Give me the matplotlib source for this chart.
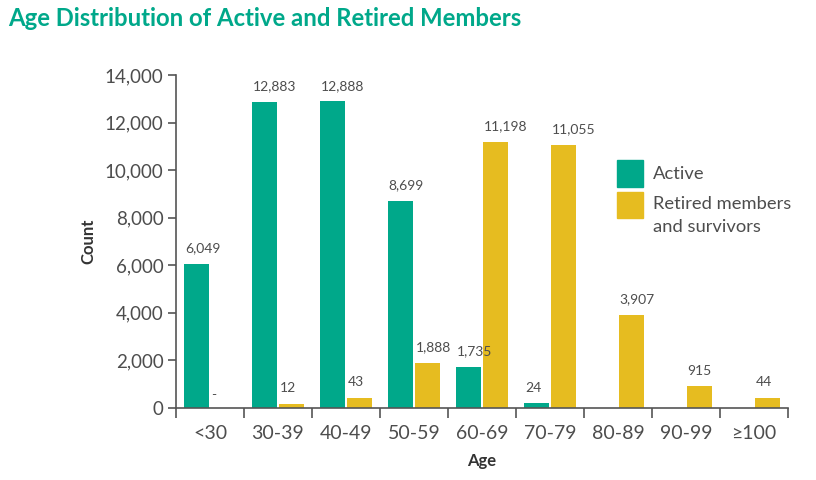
import matplotlib
matplotlib.use("Agg")
import matplotlib.pyplot as plt
import numpy as np
from matplotlib.patches import Rectangle

categories = ["<30", "30-39", "40-49", "50-59", "60-69", "70-79", "80-89", "90-99", "≥100"]
active_labels = ["6,049", "12,883", "12,888", "8,699", "1,735", "24", "", "", ""]
active_heights = [6049, 12883, 12888, 8699, 1735, 200, 0, 0, 0]
retired_labels = ["-", "12", "43", "1,888", "11,198", "11,055", "3,907", "915", "44"]
retired_heights = [0, 180, 420, 1888, 11198, 11055, 3907, 915, 420]
yticks = [0, 2000, 4000, 6000, 8000, 10000, 12000, 14000]
legend_labels = ["Active", "Retired members\nand survivors"]

GREEN = "#00A88A"
YELLOW = "#E6BC20"
TXT = "#4d4d4d"
AX = "#555555"

plt.rcParams["font.family"] = ["Lato", "DejaVu Sans"]

fig = plt.figure(figsize=(8.16, 4.8), dpi=100)
ax = fig.add_axes([176/816, 1-408/480, (788-176)/816, (408-75)/480])

x = np.arange(len(categories))
w = 0.37
off = 0.195
ax.bar(x - off, active_heights, width=w, color=GREEN)
ax.bar(x + off, retired_heights, width=w, color=YELLOW)

for i in range(len(categories)):
    if active_labels[i]:
        ax.annotate(active_labels[i], (x[i] - off - w/2, active_heights[i]), xytext=(0.5, 7),
                    textcoords="offset points", ha="left", va="bottom", fontsize=10, color=TXT)
    if retired_labels[i]:
        ax.annotate(retired_labels[i], (x[i] + off - w/2, retired_heights[i]),
                    xytext=(0.5, 7 if retired_heights[i] else 5),
                    textcoords="offset points", ha="left", va="bottom", fontsize=10, color=TXT)

ax.set_xlim(-0.5, len(categories) - 0.5)
ax.set_ylim(0, 14000)
ax.set_yticks(yticks)
ax.set_yticklabels([f"{v:,}" for v in yticks], fontsize=13.5, color=TXT)
ax.set_xticks(x)
ax.set_xticklabels(categories, fontsize=14, color=TXT)
ax.set_xticks(np.arange(len(categories) + 1) - 0.5, minor=True)
ax.tick_params(axis="x", which="major", length=0, pad=12)
ax.tick_params(axis="x", which="minor", length=7, width=1.2, color=AX, direction="out")
ax.tick_params(axis="y", length=6, width=1.2, color=AX, direction="out", pad=3)

for s in ["top", "right"]:
    ax.spines[s].set_visible(False)
for s in ["left", "bottom"]:
    ax.spines[s].set_color(AX)
    ax.spines[s].set_linewidth(1.2)

ax.set_ylabel("Count", fontsize=12, fontweight="bold", color="#333333", labelpad=6,
              fontstretch="condensed")
ax.set_xlabel("Age", fontsize=12, fontweight="bold", color="#333333", labelpad=8,
              fontstretch="condensed")

# legend drawn manually in figure pixel coordinates
def fy(py):
    return 1 - py / 480

for (top, bottom), col in zip([(160, 187), (192, 218)], [GREEN, YELLOW]):
    fig.patches.append(Rectangle((617/816, fy(bottom)), 26/816, (bottom - top)/480,
                                 transform=fig.transFigure, color=col))
fig.text(653/816, fy(174), legend_labels[0], fontsize=13.2, color=TXT, ha="left", va="center")
fig.text(653/816, fy(204), legend_labels[1].split("\n")[0], fontsize=13.2, color=TXT, ha="left", va="center")
fig.text(653/816, fy(227), legend_labels[1].split("\n")[1], fontsize=13.2, color=TXT, ha="left", va="center")

fig.text(8/816, fy(18), "Age Distribution of Active and Retired Members", fontsize=17.2,
         fontweight="bold", color=GREEN, ha="left", va="center", fontstretch="condensed")

fig.savefig("out.png", dpi=100)
